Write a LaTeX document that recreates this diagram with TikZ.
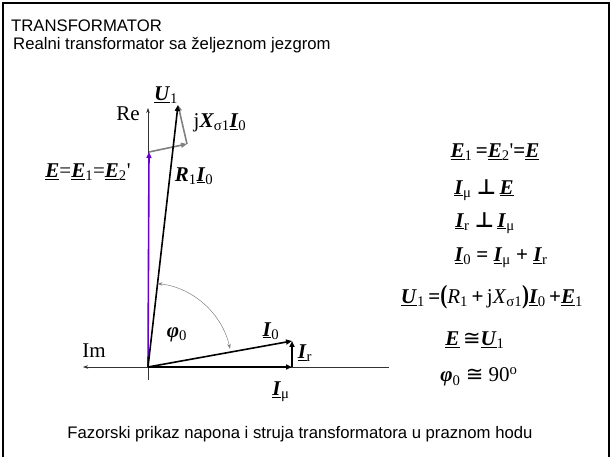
\documentclass[tikz,border=0pt]{standalone}
\usepackage{fontspec}
\setmainfont{Liberation Sans}
\newfontfamily\tms{Liberation Serif}
\newfontfamily\djv{DejaVu Sans}
\usetikzlibrary{arrows.meta}
\newcommand\V[1]{\underline{\textbf{\textit{#1}}}}
\newcommand\lo[1]{\textsubscript{#1}}
\newcommand\perpsym{{\djv\bfseries ⊥}}
\newcommand\congsym{{\djv ≅}}
\definecolor{pur}{RGB}{102,0,204}
\definecolor{grv}{RGB}{128,128,128}
\begin{document}
\begin{tikzpicture}[x=1pt,y=-1pt,
  vec/.style={line width=1.6pt,-{Triangle[length=6pt,width=5pt]}},
  gvec/.style={line width=1.6pt,draw=grv,-{Triangle[length=6pt,width=5pt]}},
  axis/.style={line width=0.5pt,draw=black!80},
  lbl/.style={font=\tms\fontsize{21}{24}\selectfont,inner sep=0pt},
  eq/.style={font=\tms\fontsize{21}{24}\selectfont,inner sep=0pt},
  ttl/.style={font=\fontsize{16.7}{20}\selectfont,inner sep=0pt,anchor=base west}]
\useasboundingbox (0,0) rectangle (611,457);
\draw[line width=2pt] (3,462) -- (3,3) -- (609,3) -- (609,462);
% titles
\node[ttl] (title) at (11,32) {TRANSFORMATOR};
\node[ttl] (sub) at (13,49.5) {Realni transformator sa željeznom jezgrom};
\node[font=\fontsize{16.7}{20}\selectfont,inner sep=0pt,anchor=base] (cap) at (300,438)
  {Fazorski prikaz napona i struja transformatora u praznom hodu};
% points
\coordinate (O) at (148,367);
\coordinate (ReT) at (148,108);
\coordinate (ReB) at (148,380);
\coordinate (ImL) at (83,367);
\coordinate (ImR) at (389,367);
\coordinate (E) at (149,152);
\coordinate (R) at (187,144);
\coordinate (U) at (178,105);
\coordinate (I0) at (292,341);
\coordinate (Imu) at (292,367);
% axes
\draw[axis,-{Stealth[length=5pt,width=3.5pt]}] (ReB) -- (ReT);
\draw[axis,-{Stealth[length=5pt,width=3.5pt]}] (ImR) -- (ImL);
% vectors
\draw[vec,draw=pur,color=pur] (O) -- (E);
\draw[gvec,color=grv] (E) -- (R);
\draw[gvec,color=grv] (R) -- (U);
\draw[vec] (O) -- (U);
\draw[vec] (O) -- (Imu);
\draw[vec] (Imu) -- (I0);
\draw[vec] (O) -- (I0);
% angle
\draw[line width=0.5pt,draw=grv,{Stealth[length=5pt,width=3.5pt]}-{Stealth[length=5pt,width=3.5pt]}]
  ([shift={(-83.5:84)}]O) arc[start angle=-83.5,end angle=-12.5,radius=84];
% labels
\node[lbl] (lU) at (166,95) {\V{U}\lo{1}};
\node[lbl] (lRe) at (128,114) {Re};
\node[lbl] (lX) at (220,123) {j\textbf{\textit{X}}\lo{σ1}\V{I}\lo{0}};
\node[lbl] (lR) at (194,176) {\textbf{\textit{R}}\lo{1}\V{I}\lo{0}};
\node[lbl] (lE) at (88,172) {\V{E}=\V{E}\lo{1}=\V{E}\lo{2}'};
\node[lbl] (lphi) at (177,335) {\textbf{\textit{φ}}\lo{0}};
\node[lbl] (lI0) at (271,331) {\V{I}\lo{0}};
\node[lbl] (lIr) at (305,353) {\V{I}\lo{r}};
\node[lbl] (lImu) at (281,392) {\V{I}\lo{μ}};
\node[lbl] (lIm) at (94,351) {Im};
% equations
\node[eq] (e1) at (495,152) {\V{E}\lo{1}\,\textbf{=}\V{E}\lo{2}'\textbf{=}\V{E}};
\node[eq] (e2) at (484,190) {\V{I}\lo{μ} \perpsym\,\V{E}};
\node[eq] (e3) at (485,223) {\V{I}\lo{r} \perpsym\,\V{I}\lo{μ}};
\node[eq] (e4) at (501,258) {\V{I}\lo{0} \textbf{=} \V{I}\lo{μ} \textbf{+} \V{I}\lo{r}};
\node[eq] (e5) at (492,297)
  {\V{U}\lo{1}\,\textbf{=}\scalebox{1}[1.25]{\textbf{(}}\textit{R}\lo{1}\,\textbf{+}\,j\textit{X}\lo{σ1}\scalebox{1}[1.25]{\textbf{)}}\V{I}\lo{0}\,\textbf{+}\V{E}\lo{1}};
\node[eq] (e6) at (475,340) {\V{E}\,\congsym\V{U}\lo{1}};
\node[eq] (e7) at (479,377) {\textbf{\textit{φ}}\lo{0} \congsym\ 90\textsuperscript{o}};
\end{tikzpicture}
\end{document}
